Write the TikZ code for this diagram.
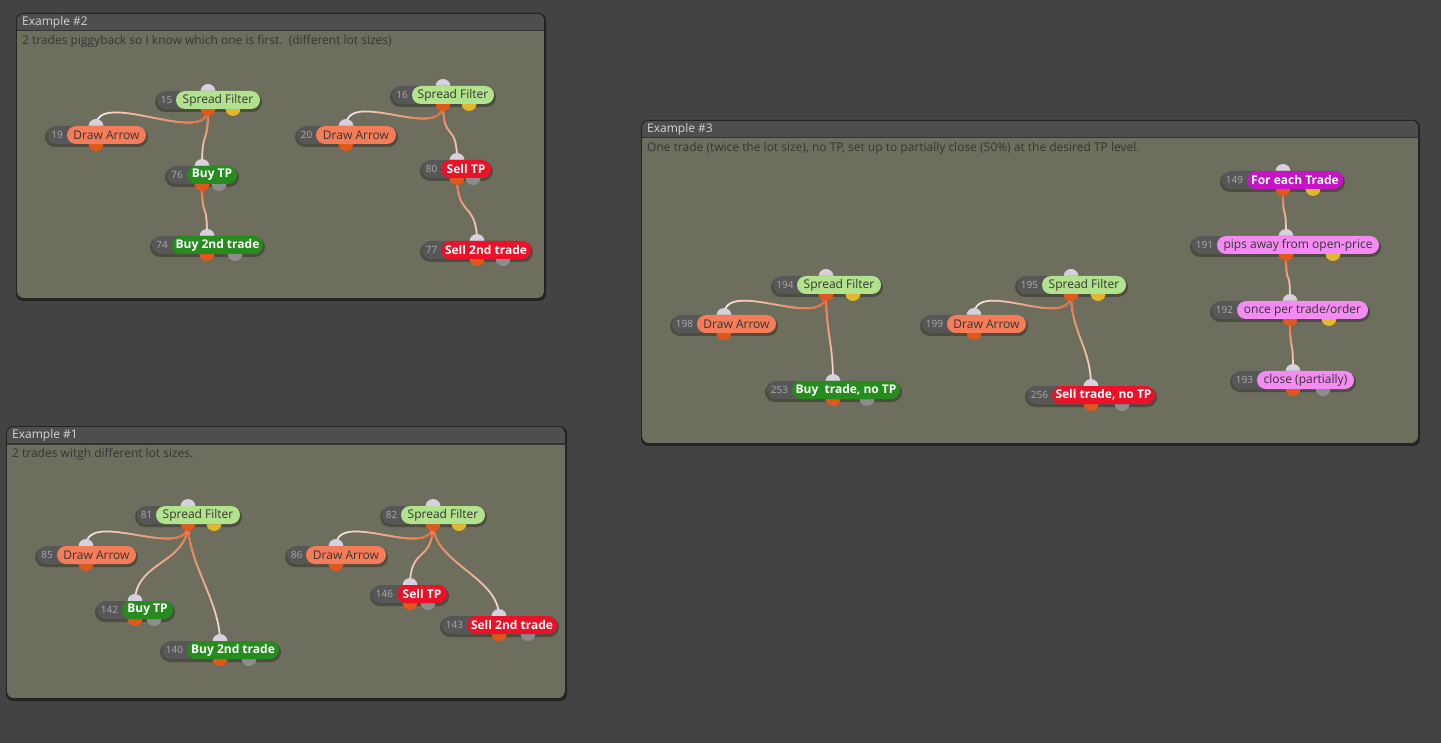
\documentclass[tikz,border=0pt]{standalone}
\usepackage{fontspec}
\setmainfont{Open Sans}
\usetikzlibrary{fadings}
\definecolor{NEBack}{HTML}{434343}
\definecolor{NEPanel}{HTML}{6D6E5D}
\definecolor{NEHead}{HTML}{4E4E4E}
\definecolor{NEHeadText}{HTML}{D4D4D4}
\definecolor{NEText}{HTML}{363636}
\definecolor{NEIdBox}{HTML}{575757}
\definecolor{NEIdText}{HTML}{ABABAB}
\definecolor{NEFilter}{HTML}{B2E28C}
\definecolor{NEArrow}{HTML}{F47C58}
\definecolor{NEBuy}{HTML}{268C1E}
\definecolor{NESell}{HTML}{EA1128}
\definecolor{NELoop}{HTML}{C414C4}
\definecolor{NEPink}{HTML}{F48BF2}
\definecolor{NEPortIn}{HTML}{D8D0DC}
\definecolor{NEPortOut}{HTML}{E2581B}
\definecolor{NEPortYes}{HTML}{E3B72B}
\definecolor{NEPortNo}{HTML}{8D8D8D}
\definecolor{NEWire}{HTML}{EE5F1E}
\definecolor{NEWireCold}{HTML}{F6ECEE}
\tikzfading[name=wiredown, top color=transparent!0, middle color=transparent!10, bottom color=transparent!100]
\tikzfading[name=wireleft, right color=transparent!0, middle color=transparent!10, left color=transparent!100]
\pgfdeclarelayer{panels}
\pgfdeclarelayer{wires}
\pgfsetlayers{panels,wires,main}

\begin{document}
\begin{tikzpicture}[x=1pt,y=-1pt,
    hdtext/.style={anchor=west,inner sep=0pt,text=NEHeadText,font=\fontsize{12}{14}\selectfont},
    desctext/.style={anchor=west,inner sep=0pt,text=NEText,font=\fontsize{12}{14}\selectfont},
    idtext/.style={inner sep=0pt,text=NEIdText,font=\fontsize{10}{12}\selectfont},
    litelab/.style={inner sep=0pt,text=NEText,font=\fontsize{12}{14}\selectfont},
    boldlab/.style={inner sep=0pt,text=white,font=\fontsize{12}{14}\selectfont\bfseries},
    wirebase/.style={NEWireCold,line width=1.7pt},
    wirehot/.style={NEWire,line width=1.7pt}]
  \useasboundingbox (0,0) rectangle (1441,743);
  \begin{pgfonlayer}{panels}
    \fill[NEBack] (0,0) rectangle (1441,743);
    \foreach \pn/\xa/\ya/\xb/\yb/\ttl/\desc in {
      exB/17/14/544/298/{Example \#2}/{2 trades piggyback so I know which one is first.\ \ (different lot sizes)},
      exC/642/121/1418/443/{Example \#3}/{One trade (twice the lot size), no TP, set up to partially close (50\%) at the desired TP level.},
      exA/7/427/565/698/{Example \#1}/{2 trades witgh different lot sizes.}}{
      \fill[black,opacity=.45,rounded corners=7pt] (\xa-1,\ya-1) rectangle (\xb+2,\yb+3);
      \begin{scope}
        \clip[rounded corners=7pt] (\xa,\ya) rectangle (\xb,\yb);
        \fill[NEPanel] (\xa,\ya) rectangle (\xb,\yb);
        \fill[NEHead] (\xa,\ya) rectangle (\xb,\ya+16);
        \fill[black!80] (\xa,\ya+16) rectangle (\xb,\ya+17.5);
      \end{scope}
      \node[hdtext] (\pn-head) at (\xa+5,\ya+8.5) {\ttl};
      \node[desctext] (\pn-desc) at (\xa+5,\ya+27.5) {\desc};
    }
  \end{pgfonlayer}
  \foreach \nm/\num/\gx/\lx/\rx/\cy/\px/\qx/\qc/\fc/\kind/\lab in {
    n15/15/157/176/260/100/208/233/NEPortYes/NEFilter/litelab/Spread Filter,
    n19/19/47/67/146/135/96/96/none/NEArrow/litelab/Draw Arrow,
    n76/76/167/187/237/175/202/219/NEPortNo/NEBuy/boldlab/Buy TP,
    n74/74/152/172/263/245/207/235/NEPortNo/NEBuy/boldlab/Buy 2nd trade,
    n16/16/392/412/494/95/443/469/NEPortYes/NEFilter/litelab/Spread Filter,
    n20/20/297/316/396/135/346/346/none/NEArrow/litelab/Draw Arrow,
    n80/80/422/441/491/169/457/473/NEPortNo/NESell/boldlab/Sell TP,
    n77/77/422/441/531/250/477/503/NEPortNo/NESell/boldlab/Sell 2nd trade,
    n194/194/773/797/881/285/826/853/NEPortYes/NEFilter/litelab/Spread Filter,
    n198/198/672/697/776/324/724/724/none/NEArrow/litelab/Draw Arrow,
    n253/253/767/792/900/390/833/867/NEPortNo/NEBuy/boldlab/{Buy\ \ trade, no TP},
    n195/195/1017/1042/1126/285/1071/1098/NEPortYes/NEFilter/litelab/Spread Filter,
    n199/199/922/947/1026/324/974/974/none/NEArrow/litelab/Draw Arrow,
    n256/256/1027/1052/1155/395/1091/1122/NEPortNo/NESell/boldlab/{Sell trade, no TP},
    n149/149/1222/1247/1343/180/1283/1313/NEPortYes/NELoop/boldlab/For each Trade,
    n191/191/1192/1217/1379/245/1286/1333/NEPortYes/NEPink/litelab/pips away from open-price,
    n192/192/1212/1237/1368/310/1290/1329/NEPortYes/NEPink/litelab/{once per trade/order},
    n193/193/1232/1257/1354/380/1293/1323/NEPortNo/NEPink/litelab/{close (partially)},
    n81/81/137/156/240/515/188/214/NEPortYes/NEFilter/litelab/Spread Filter,
    n85/85/37/57/136/555/86/86/none/NEArrow/litelab/Draw Arrow,
    n142/142/97/122/173/610/135/154/NEPortNo/NEBuy/boldlab/Buy TP,
    n140/140/162/187/279/650/220/249/NEPortNo/NEBuy/boldlab/Buy 2nd trade,
    n82/82/382/401/485/515/433/459/NEPortYes/NEFilter/litelab/Spread Filter,
    n86/86/287/306/386/555/336/336/none/NEArrow/litelab/Draw Arrow,
    n146/146/372/397/447/594/410/428/NEPortNo/NESell/boldlab/Sell TP,
    n143/143/442/467/557/625/499/528/NEPortNo/NESell/boldlab/Sell 2nd trade}{
    \fill[black,opacity=.3,rounded corners=10pt] (\gx-2,\cy-8) rectangle (\rx+2,\cy+12);
    \fill[NEPortIn] (\px,\cy-8.5) circle (7.5pt);
    \fill[NEPortOut] (\px,\cy+8.5) circle (7.5pt);
    \fill[fill=\qc] (\qx,\cy+8.5) circle (7.5pt);
    \fill[NEIdBox,rounded corners=9pt] (\gx,\cy-9) rectangle (\rx,\cy+9);
    \fill[\fc,rounded corners=9pt] (\lx,\cy-9) rectangle (\rx,\cy+9);
    \node[idtext] (\nm-id) at ({(\gx+\lx)/2},\cy) {\num};
    \node[\kind] (\nm) at ({(\lx+\rx)/2},\cy) {\lab};
    \coordinate (\nm-in) at (\px,\cy-8.5);
    \coordinate (\nm-out) at (\px,\cy+8.5);
  }
  \begin{pgfonlayer}{wires}
    \foreach \src/\dst/\fd in {n15/n19/wireleft,n15/n76/wiredown,n76/n74/wiredown,
      n16/n20/wireleft,n16/n80/wiredown,n80/n77/wiredown,
      n194/n198/wireleft,n194/n253/wiredown,n195/n199/wireleft,n195/n256/wiredown,
      n149/n191/wiredown,n191/n192/wiredown,n192/n193/wiredown,
      n81/n85/wireleft,n81/n142/wiredown,n81/n140/wiredown,
      n82/n86/wireleft,n82/n146/wiredown,n82/n143/wiredown}{
      \draw[wirebase] (\src-out) .. controls +(0,40) and +(0,-40) .. (\dst-in);
      \draw[wirehot,path fading=\fd] (\src-out) .. controls +(0,40) and +(0,-40) .. (\dst-in);
    }
  \end{pgfonlayer}
\end{tikzpicture}
\end{document}
